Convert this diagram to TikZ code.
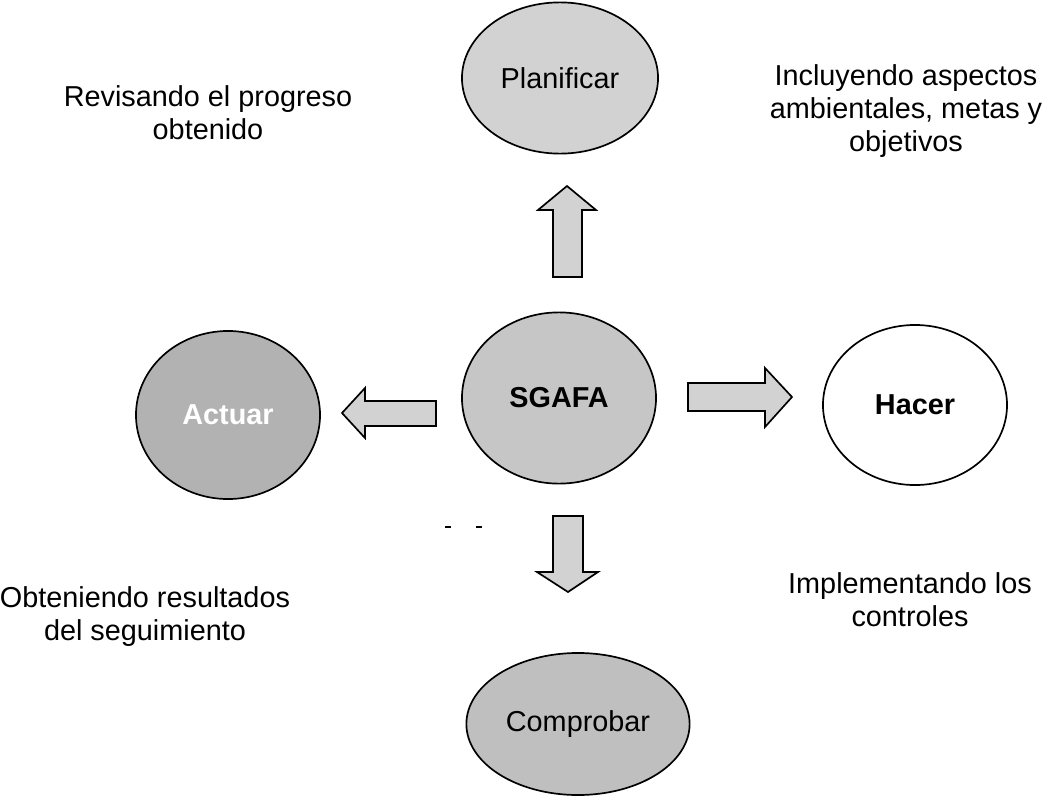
\documentclass[tikz,border=0pt]{standalone}
\usepackage{fontspec}
\setmainfont{Liberation Sans}
\usetikzlibrary{shapes.geometric,positioning}
\tikzset{
	every path/.style = {line width=1.2pt},
	stage/.style = {draw, ellipse, inner sep=0pt, font=\fontsize{20.5}{24}\selectfont},
	note/.style = {align=center, font=\fontsize{20.5}{23.5}\selectfont},
	blockarrow/.style = {draw, fill=gray!35, line join=miter}
}

\begin{document}
\begin{tikzpicture}[x=0.025cm,y=-0.025cm]
	\useasboundingbox (0,0) rectangle (1055,797);
	\node[stage, fill=gray!35, minimum width=4.9cm, minimum height=3.78cm] (plan) at (560,78) {Planificar};
	\node[stage, fill=gray!45, minimum width=4.85cm, minimum height=4.28cm, font=\fontsize{20.5}{24}\selectfont\bfseries] (sgafa) at (559,398) {SGAFA};
	\node[stage, fill=gray!60, text=white, minimum width=4.6cm, minimum height=4.2cm, font=\fontsize{20.5}{24}\selectfont\bfseries] (act) at (228,415) {Actuar};
	\node[stage, fill=white, minimum width=4.6cm, minimum height=4.0cm, font=\fontsize{20.5}{24}\selectfont\bfseries] (hac) at (915,405) {Hacer};
	\node[stage, fill=gray!50, minimum width=5.58cm, minimum height=3.55cm] (comp) at (578,724) {Comprobar};
	\node[note] (rev) at (208,113) {Revisando el progreso\\obtenido};
	\node[note] (inc) at (906,111) {Incluyendo aspectos\\ambientales, metas y\\objetivos};
	\node[note] (obt) at (145,617) {Obteniendo resultados\\del seguimiento};
	\node[note] (imp) at (910,600) {Implementando los\\controles};
	% block arrows
	\draw[blockarrow] (553,277) -- (553,210) -- (538,210) -- (567,186) -- (596,210) -- (582,210) -- (582,277) -- cycle;
	\draw[blockarrow] (553,516) -- (553,572) -- (537,572) -- (568,592) -- (598,572) -- (583,572) -- (583,516) -- cycle;
	\draw[blockarrow] (436,401) -- (365,401) -- (365,388) -- (342,413) -- (365,438) -- (365,426) -- (436,426) -- cycle;
	\draw[blockarrow] (688,383) -- (765,383) -- (765,368) -- (792,397) -- (765,427) -- (765,411) -- (688,411) -- cycle;
	\draw[line width=1pt] (445,527) -- (451,527) (476,527) -- (482,527);
\end{tikzpicture}
\end{document}
